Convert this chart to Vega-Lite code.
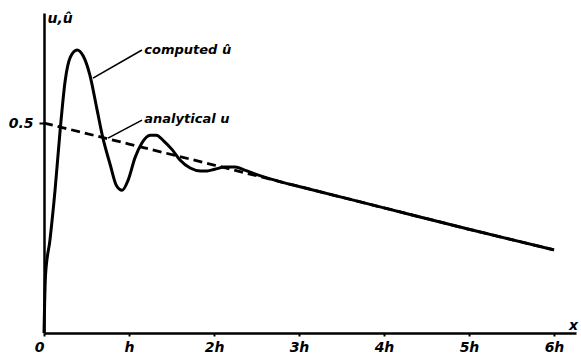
{
  "$schema": "https://vega.github.io/schema/vega-lite/v6.json",
  "width": 532,
  "height": 320,
  "autosize": {"type": "none"},
  "padding": {"left": 44, "top": 13, "right": 5, "bottom": 22},
  "background": "white",
  "config": {"view": {"stroke": null}},
  "datasets": {
    "analytic": [
      {"x": 0, "u": 0.5},
      {"x": 1, "u": 0.45},
      {"x": 2, "u": 0.4},
      {"x": 3, "u": 0.349},
      {"x": 4, "u": 0.298},
      {"x": 5, "u": 0.247},
      {"x": 6, "u": 0.198}
    ],
    "computed": [
      {"x": 0, "u": 0},
      {"x": 0.018, "u": 0.138},
      {"x": 0.07, "u": 0.221},
      {"x": 0.13, "u": 0.34},
      {"x": 0.19, "u": 0.483},
      {"x": 0.25, "u": 0.602},
      {"x": 0.31, "u": 0.657},
      {"x": 0.39, "u": 0.674},
      {"x": 0.46, "u": 0.66},
      {"x": 0.54, "u": 0.614},
      {"x": 0.62, "u": 0.536},
      {"x": 0.69, "u": 0.467},
      {"x": 0.78, "u": 0.4},
      {"x": 0.85, "u": 0.352},
      {"x": 0.92, "u": 0.34},
      {"x": 0.99, "u": 0.364},
      {"x": 1.07, "u": 0.417},
      {"x": 1.15, "u": 0.452},
      {"x": 1.25, "u": 0.471},
      {"x": 1.32, "u": 0.471},
      {"x": 1.41, "u": 0.457},
      {"x": 1.51, "u": 0.436},
      {"x": 1.6, "u": 0.412},
      {"x": 1.72, "u": 0.393},
      {"x": 1.84, "u": 0.386},
      {"x": 1.92, "u": 0.386},
      {"x": 2.01, "u": 0.39},
      {"x": 2.13, "u": 0.395},
      {"x": 2.25, "u": 0.395},
      {"x": 2.36, "u": 0.388},
      {"x": 2.48, "u": 0.379},
      {"x": 2.66, "u": 0.367},
      {"x": 2.84, "u": 0.357},
      {"x": 3, "u": 0.349},
      {"x": 4, "u": 0.298},
      {"x": 5, "u": 0.247},
      {"x": 6, "u": 0.198}
    ],
    "leaders": [
      {"x": 0.576, "u": 0.607, "x2": 1.153, "u2": 0.674},
      {"x": 0.753, "u": 0.464, "x2": 1.153, "u2": 0.507}
    ],
    "labels": [
      {"x": 1.18, "u": 0.674, "label": "computed û"},
      {"x": 1.18, "u": 0.51, "label": "analytical u"}
    ]
  },
  "encoding": {
    "x": {
      "field": "x",
      "type": "quantitative",
      "scale": {"domain": [0, 6.259], "nice": false, "zero": false},
      "axis": {
        "values": [0, 1, 2, 3, 4, 5, 6],
        "labelExpr": "datum.value == 0 ? '0' : (datum.value == 1 ? 'h' : datum.value + 'h')",
        "labelAlign": {"condition": {"test": "datum.value == 0", "value": "right"}, "value": "center"},
        "grid": false,
        "domainColor": "black",
        "domainWidth": 2.5,
        "tickColor": "black",
        "tickSize": 3,
        "tickWidth": 2,
        "labelPadding": 4,
        "labelFont": "DejaVu Sans",
        "labelFontSize": 14,
        "labelFontStyle": "italic",
        "labelFontWeight": "bold",
        "labelColor": "black",
        "labelFlush": false,
        "labelOverlap": false,
        "title": "x",
        "titleFont": "DejaVu Sans",
        "titleFontSize": 14,
        "titleFontStyle": "italic",
        "titleFontWeight": "bold",
        "titleColor": "black",
        "titleX": 529,
        "titleY": -8,
        "titleAlign": "center",
        "titleBaseline": "middle"
      }
    },
    "y": {
      "field": "u",
      "type": "quantitative",
      "scale": {"domain": [0, 0.762], "nice": false, "zero": false},
      "axis": {
        "values": [0.5],
        "format": ".1f",
        "grid": false,
        "domainColor": "black",
        "domainWidth": 2.5,
        "tickColor": "black",
        "tickSize": 5,
        "tickWidth": 2,
        "labelPadding": 6,
        "labelFont": "DejaVu Sans",
        "labelFontSize": 14,
        "labelFontStyle": "italic",
        "labelFontWeight": "bold",
        "labelColor": "black",
        "title": "u,û",
        "titleFont": "DejaVu Sans",
        "titleFontSize": 14,
        "titleFontStyle": "italic",
        "titleFontWeight": "bold",
        "titleColor": "black",
        "titleAngle": 0,
        "titleX": 3,
        "titleY": 5,
        "titleAlign": "left",
        "titleBaseline": "middle"
      }
    }
  },
  "layer": [
    {
      "data": {"name": "analytic"},
      "mark": {"type": "line", "color": "black", "strokeWidth": 2.8, "strokeDash": [9, 5]}
    },
    {
      "data": {"name": "computed"},
      "mark": {"type": "line", "color": "black", "strokeWidth": 3, "interpolate": "monotone"}
    },
    {
      "data": {"name": "leaders"},
      "mark": {"type": "rule", "color": "black", "strokeWidth": 1.6},
      "encoding": {
        "x2": {"field": "x2"},
        "y2": {"field": "u2"}
      }
    },
    {
      "data": {"name": "labels"},
      "mark": {"type": "text", "align": "left", "baseline": "middle", "font": "DejaVu Sans", "fontSize": 13, "fontStyle": "italic", "fontWeight": "bold", "color": "black"},
      "encoding": {
        "text": {"field": "label"}
      }
    }
  ]
}
